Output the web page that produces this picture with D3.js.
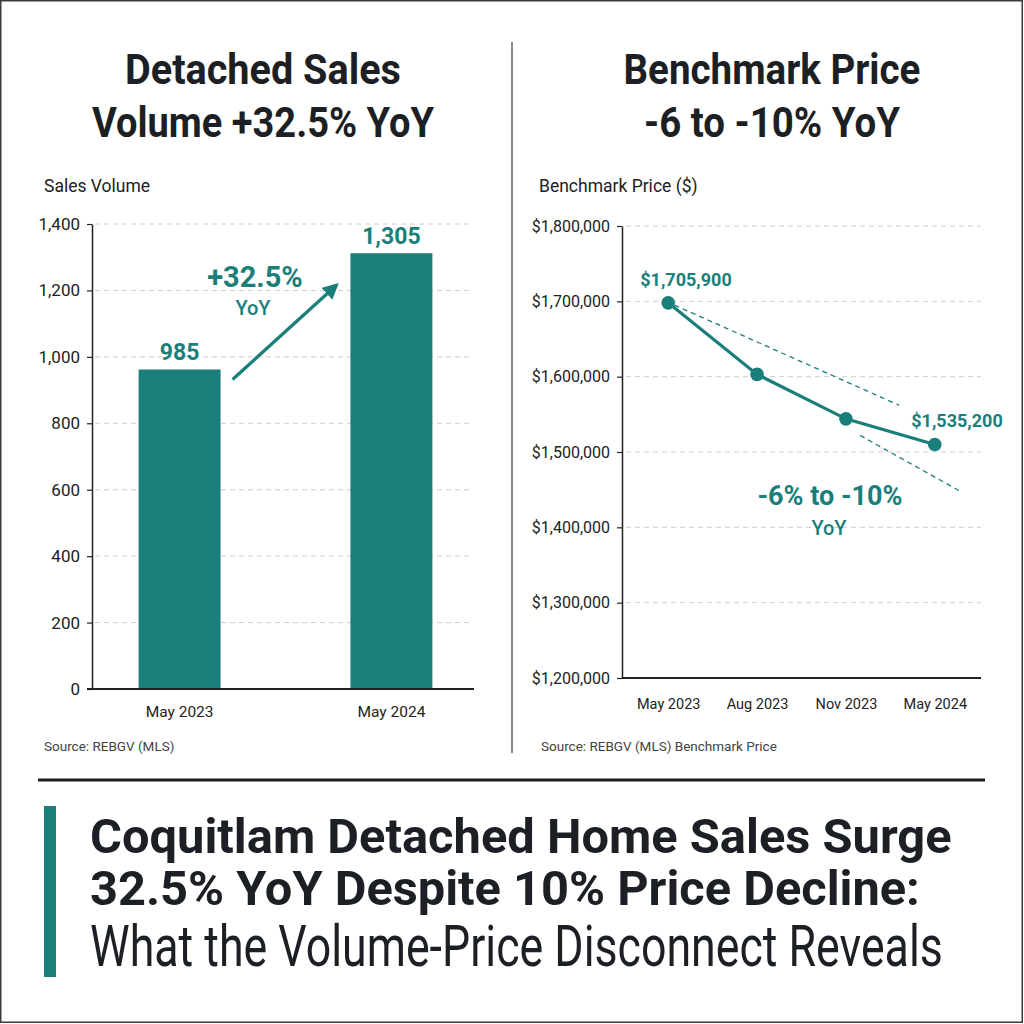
<!DOCTYPE html>
<html>
<head>
<meta charset="utf-8">
<script src="https://cdn.jsdelivr.net/npm/d3@7"></script>
<style>
  html, body { margin: 0; padding: 0; background: #fff; }
  svg { display: block; font-family: Roboto, "Noto Sans", sans-serif; }
</style>
</head>
<body>
<svg id="main-chart"></svg>
<script>
// sales volume (left panel)
const salesMonths = ["May 2023", "May 2024"];
const salesValues = [962, 1312];
const salesLabels = ["985", "1,305"];
const salesTicks = [0, 200, 400, 600, 800, 1000, 1200, 1400];

// benchmark price (right panel)
const priceMonths = ["May 2023", "Aug 2023", "Nov 2023", "May 2024"];
const priceValues = [1698000, 1603000, 1544000, 1510000];
const priceTicks = [1200000, 1300000, 1400000, 1500000, 1600000, 1700000, 1800000];
// dashed guide lines: [index position, price]
const trendA = [[0.07, 1695000], [2.6, 1562000]];
const trendB = [[2.16, 1522000], [3.3, 1447000]];

const teal = "#1a7f7b";
const ink = "#1c1f24";

const width = 1024, height = 1024;
const svg = d3.select("#main-chart").attr("width", width).attr("height", height);

svg.append("rect")
  .attr("x", 0.75).attr("y", 0.75)
  .attr("width", width - 2.5).attr("height", height - 2.5)
  .attr("fill", "#fff").attr("stroke", "#3a3a3a").attr("stroke-width", 1.5);

// squeeze a text horizontally to a given width (condensed look)
function fitText(sel, x, y, w, anchor) {
  const natural = sel.node().getComputedTextLength();
  const k = Math.min(1, w / natural);
  const x0 = anchor === "middle" ? x - w / 2 : x;
  sel.attr("x", 0).attr("y", 0)
    .attr("transform", `translate(${x0},${y}) scale(${k},1)`);
}

// panel titles
const titles = [
  {lines: ["Detached Sales", "Volume +32.5% YoY"], x: 263, widths: [276, 342]},
  {lines: ["Benchmark Price", "-6 to -10% YoY"], x: 772, widths: [297, 256]}
];
titles.forEach(t => {
  t.lines.forEach((s, i) => {
    const txt = svg.append("text")
      .attr("font-size", "42px").attr("font-weight", 700)
      .attr("fill", ink)
      .text(s);
    fitText(txt, t.x, 84 + i * 53, t.widths[i], "middle");
  });
});

// divider
svg.append("line").attr("x1", 512).attr("x2", 512).attr("y1", 42).attr("y2", 753)
  .attr("stroke", "#6a6a6a").attr("stroke-width", 1.6);

// ---------- left: bar chart ----------
const yL = d3.scaleLinear().domain([0, 1400]).range([689, 224]);
const xL = d3.scaleBand().domain(salesMonths).range([92, 479])
  .paddingInner(0.613).paddingOuter(0.22);

const left = svg.append("g");

left.append("g")
  .selectAll("line")
  .data(salesTicks.filter(d => d > 0))
  .join("line")
  .attr("x1", 95).attr("x2", 470)
  .attr("y1", d => yL(d)).attr("y2", d => yL(d))
  .attr("stroke", "#cfcfcf").attr("stroke-dasharray", "5,4");

left.append("g")
  .attr("transform", "translate(92,0)")
  .call(d3.axisLeft(yL).tickValues(salesTicks).tickFormat(d3.format(",")).tickSize(5).tickSizeOuter(0))
  .call(g => g.select(".domain").attr("stroke", "#222").attr("stroke-width", 1.5))
  .call(g => g.selectAll(".tick line").attr("stroke", "#222").attr("stroke-width", 1.2))
  .call(g => g.selectAll(".tick text").attr("font-size", "17px").attr("fill", "#222")
    .attr("x", -12).attr("font-family", "Roboto"));

left.selectAll("rect.bar")
  .data(salesValues)
  .join("rect")
  .attr("class", "bar")
  .attr("x", (d, i) => xL(salesMonths[i]))
  .attr("y", d => yL(d))
  .attr("width", xL.bandwidth())
  .attr("height", d => yL(0) - yL(d))
  .attr("fill", teal);

left.append("line")
  .attr("x1", 87).attr("x2", 474).attr("y1", yL(0)).attr("y2", yL(0))
  .attr("stroke", "#222").attr("stroke-width", 2);

left.append("g")
  .attr("transform", `translate(0,${yL(0)})`)
  .call(d3.axisBottom(xL).tickSize(0))
  .call(g => g.select(".domain").remove())
  .call(g => g.selectAll(".tick text").attr("font-size", "15.5px").attr("fill", "#222")
    .attr("dy", 0).attr("y", 28).attr("font-family", "Roboto"));

left.selectAll("text.val")
  .data(salesValues)
  .join("text")
  .attr("class", "val")
  .attr("x", (d, i) => xL(salesMonths[i]) + xL.bandwidth() / 2)
  .attr("y", d => yL(d) - 9)
  .attr("text-anchor", "middle")
  .attr("font-size", "23px").attr("font-weight", 700).attr("fill", teal)
  .text((d, i) => salesLabels[i]);

svg.append("defs").append("marker")
  .attr("id", "arrow").attr("viewBox", "0 0 10 10")
  .attr("refX", 8).attr("refY", 5)
  .attr("markerWidth", 5).attr("markerHeight", 5)
  .attr("orient", "auto")
  .append("path").attr("d", "M0,0 L10,5 L0,10 Z").attr("fill", teal);

const ax1 = xL(salesMonths[0]) + xL.bandwidth() + 12, ay1 = yL(salesValues[0]) + 10;
const ax2 = xL(salesMonths[1]) - 14, ay2 = yL(salesValues[1]) + 32;
left.append("line")
  .attr("x1", ax1).attr("y1", ay1).attr("x2", ax2).attr("y2", ay2)
  .attr("stroke", teal).attr("stroke-width", 3.2)
  .attr("marker-end", "url(#arrow)");

left.append("text").attr("x", 255).attr("y", 287).attr("text-anchor", "middle")
  .attr("font-size", "29px").attr("font-weight", 700).attr("fill", teal).text("+32.5%");
left.append("text").attr("x", 253).attr("y", 315).attr("text-anchor", "middle")
  .attr("font-size", "20px").attr("font-weight", 500).attr("fill", teal).text("YoY");

left.append("text").attr("x", 44).attr("y", 192)
  .attr("font-size", "17.5px").attr("fill", "#222").text("Sales Volume");
left.append("text").attr("x", 44).attr("y", 751)
  .attr("font-size", "13.5px").attr("fill", "#444").text("Source: REBGV (MLS)");

// ---------- right: line chart ----------
const yR = d3.scaleLinear().domain([1200000, 1800000]).range([678, 226]);
const xR = d3.scalePoint().domain(priceMonths).range([622, 981]).padding(0.52);
const xIdx = d3.scaleLinear().domain([0, priceMonths.length - 1])
  .range([xR(priceMonths[0]), xR(priceMonths[priceMonths.length - 1])]);

const right = svg.append("g");

right.append("g")
  .selectAll("line")
  .data(priceTicks.filter(d => d > 1200000))
  .join("line")
  .attr("x1", 626).attr("x2", 981)
  .attr("y1", d => yR(d)).attr("y2", d => yR(d))
  .attr("stroke", "#cfcfcf").attr("stroke-dasharray", "5,4");

right.append("g")
  .attr("transform", "translate(622,0)")
  .call(d3.axisLeft(yR).tickValues(priceTicks).tickFormat(d => "$" + d3.format(",")(d)).tickSize(5).tickSizeOuter(0))
  .call(g => g.select(".domain").attr("stroke", "#222").attr("stroke-width", 1.5))
  .call(g => g.selectAll(".tick line").attr("stroke", "#222").attr("stroke-width", 1.2))
  .call(g => g.selectAll(".tick text").attr("font-size", "16px").attr("fill", "#222")
    .attr("x", -12).attr("font-family", "Roboto"));

right.append("line")
  .attr("x1", 622).attr("x2", 981).attr("y1", yR(1200000)).attr("y2", yR(1200000))
  .attr("stroke", "#222").attr("stroke-width", 2);

right.append("g")
  .attr("transform", `translate(0,${yR(1200000)})`)
  .call(d3.axisBottom(xR).tickSize(0))
  .call(g => g.select(".domain").remove())
  .call(g => g.selectAll(".tick text").attr("font-size", "14.5px").attr("fill", "#222")
    .attr("dy", 0).attr("y", 31).attr("font-family", "Roboto"));

const trendLine = d3.line().x(d => xIdx(d[0])).y(d => yR(d[1]));
[trendA, trendB].forEach(t => {
  right.append("path").attr("d", trendLine(t))
    .attr("fill", "none").attr("stroke", teal).attr("stroke-width", 1.3)
    .attr("stroke-dasharray", "5,4");
});

const priceLine = d3.line()
  .x((d, i) => xR(priceMonths[i]))
  .y(d => yR(d));
right.append("path").datum(priceValues)
  .attr("d", priceLine)
  .attr("fill", "none").attr("stroke", teal).attr("stroke-width", 3.2);

right.selectAll("circle")
  .data(priceValues)
  .join("circle")
  .attr("cx", (d, i) => xR(priceMonths[i]))
  .attr("cy", d => yR(d))
  .attr("r", 6.8)
  .attr("fill", teal);

right.append("text").attr("x", 686).attr("y", 286).attr("text-anchor", "middle")
  .attr("font-size", "18px").attr("font-weight", 700).attr("fill", teal).text("$1,705,900");
right.append("text").attr("x", 957).attr("y", 427).attr("text-anchor", "middle")
  .attr("font-size", "18px").attr("font-weight", 700).attr("fill", teal).text("$1,535,200");
right.append("text").attr("x", 830).attr("y", 505).attr("text-anchor", "middle")
  .attr("font-size", "27px").attr("font-weight", 700).attr("fill", teal).text("-6% to -10%");
right.append("text").attr("x", 829).attr("y", 535).attr("text-anchor", "middle")
  .attr("font-size", "20px").attr("font-weight", 500).attr("fill", teal).text("YoY");

right.append("text").attr("x", 539).attr("y", 192)
  .attr("font-size", "17.5px").attr("fill", "#222").text("Benchmark Price ($)");
right.append("text").attr("x", 541).attr("y", 751)
  .attr("font-size", "13.5px").attr("fill", "#444").text("Source: REBGV (MLS) Benchmark Price");

// ---------- headline ----------
svg.append("line").attr("x1", 38).attr("x2", 985).attr("y1", 780).attr("y2", 780)
  .attr("stroke", "#1c1c1c").attr("stroke-width", 3);

svg.append("rect").attr("x", 44).attr("y", 806).attr("width", 12).attr("height", 171)
  .attr("fill", teal);

const headline = [
  {text: "Coquitlam Detached Home Sales Surge", y: 853, size: 49, weight: 700, w: 862},
  {text: "32.5% YoY Despite 10% Price Decline:", y: 905, size: 49, weight: 700, w: 830},
  {text: "What the Volume-Price Disconnect Reveals", y: 966, size: 58, weight: 400, w: 853}
];
headline.forEach(h => {
  const txt = svg.append("text")
    .attr("font-size", h.size + "px").attr("font-weight", h.weight).attr("fill", ink)
    .text(h.text);
  fitText(txt, 90, h.y, h.w, "start");
});
</script>
</body>
</html>
